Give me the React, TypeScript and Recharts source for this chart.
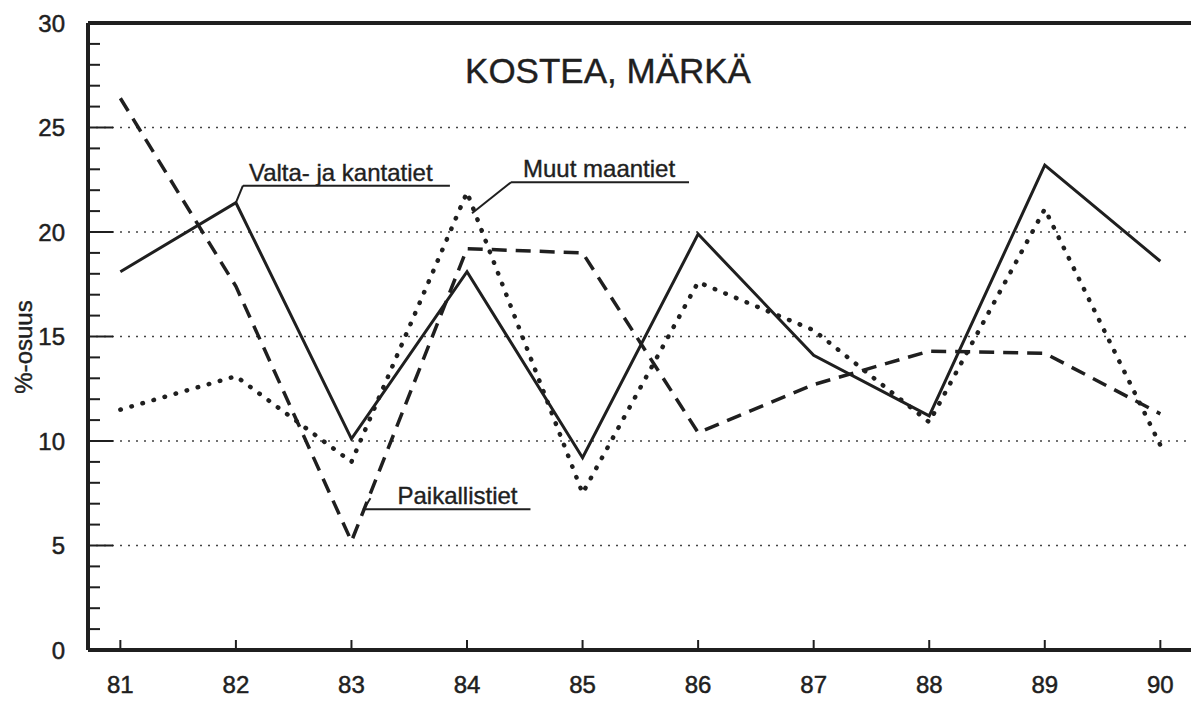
import { LineChart, Line, XAxis, YAxis, ReferenceLine, ReferenceDot } from 'recharts';

const years = [81, 82, 83, 84, 85, 86, 87, 88, 89, 90];
const valtaJaKantatiet = [18.1, 21.4, 10.1, 18.1, 9.2, 19.9, 14.1, 11.2, 23.2, 18.6];
const muutMaantiet = [11.5, 13.1, 9.0, 21.9, 7.5, 17.6, 15.3, 10.9, 21.1, 9.8];
const paikallistiet = [26.4, 17.4, 5.2, 19.2, 19.0, 10.4, 12.7, 14.3, 14.2, 11.3];
const yTicks = [0, 1, 2, 3, 4, 5, 6, 7, 8, 9, 10, 11, 12, 13, 14, 15, 16, 17, 18, 19, 20, 21, 22, 23, 24, 25, 26, 27, 28, 29, 30];
const gridValues = [5, 10, 15, 20, 25];

const ink = '#1f1f1f';
const font = '"Liberation Sans", Arial, Helvetica, sans-serif';

const data = years.map((year, i) => ({
  year,
  valta: valtaJaKantatiet[i],
  muut: muutMaantiet[i],
  paikal: paikallistiet[i],
}));

const YTick = (props: any) => {
  const { x, y, payload } = props;
  const major = payload.value % 5 === 0;
  return (
    <g>
      <line x1={x} x2={x + (major ? 25 : 12)} y1={y} y2={y} stroke={ink} strokeWidth={2} />
      {major && (
        <text x={x - 23} y={y} textAnchor="end" dominantBaseline="central" fontSize={24} fontFamily={font} fill={ink} stroke={ink} strokeWidth={0.5}>
          {payload.value}
        </text>
      )}
    </g>
  );
};

const XTick = (props: any) => {
  const { x, y, payload } = props;
  return (
    <g>
      <line x1={x} x2={x} y1={y} y2={y - 10} stroke={ink} strokeWidth={2} />
      <text x={x} y={y + 43} textAnchor="middle" fontSize={24} fontFamily={font} fill={ink} stroke={ink} strokeWidth={0.5}>
        {payload.value}
      </text>
    </g>
  );
};

// callout: leader from the data point, underline, label text
const callout = (label: string, path: string, ux1: number, ux2: number, uy: number, tx: number, ty: number) =>
  (props: any) => {
    const { cx, cy } = props;
    return (
      <g transform={`translate(${cx},${cy})`}>
        <path d={path} fill="none" stroke={ink} strokeWidth={2} />
        <line x1={ux1} x2={ux2} y1={uy} y2={uy} stroke={ink} strokeWidth={2} />
        <text x={tx} y={ty} fontSize={24} fontFamily={font} fill={ink} stroke={ink} strokeWidth={0.4}>{label}</text>
      </g>
    );
  };

export default function App() {
  return (
    <div style={{ position: 'absolute', left: 0, top: 0, width: 1191, height: 701, overflow: 'hidden', background: '#fff' }}>
      <LineChart width={1200} height={701} data={data} margin={{ top: 23, right: 5, left: 28, bottom: 11 }}>
        {gridValues.map((v) => (
          <ReferenceLine key={v} y={v} stroke="#444" strokeWidth={1.6} strokeDasharray="2 6" />
        ))}
        <ReferenceLine y={30} stroke={ink} strokeWidth={4} />
        <XAxis
          dataKey="year"
          type="number"
          domain={[80.72, 90.3]}
          ticks={years}
          interval={0}
          allowDataOverflow
          height={40}
          tickSize={0}
          tickMargin={0}
          tickLine={false}
          axisLine={{ stroke: ink, strokeWidth: 4 }}
          tick={<XTick />}
        />
        <YAxis
          domain={[0, 30]}
          ticks={yTicks}
          interval={0}
          allowDataOverflow
          width={60}
          tickSize={0}
          tickMargin={0}
          tickLine={false}
          axisLine={{ stroke: ink, strokeWidth: 4 }}
          tick={<YTick />}
        />
        <Line type="linear" dataKey="muut" stroke={ink} strokeWidth={4.5} strokeDasharray="0.5 11" strokeLinecap="round" dot={false} isAnimationActive={false} />
        <Line type="linear" dataKey="paikal" stroke={ink} strokeWidth={3.5} strokeDasharray="15 9" dot={false} isAnimationActive={false} />
        <Line type="linear" dataKey="valta" stroke={ink} strokeWidth={3} dot={false} isAnimationActive={false} />
        <ReferenceDot
          x={years[1]}
          y={valtaJaKantatiet[1]}
          shape={callout('Valta- ja kantatiet', 'M0,0 L7,-17', 7, 214, -17, 13, -22)}
        />
        <ReferenceDot
          x={years[3]}
          y={muutMaantiet[3]}
          shape={callout('Muut maantiet', 'M5,21 L44,-10', 44, 222, -10, 56, -15)}
        />
        <ReferenceDot
          x={years[2]}
          y={paikallistiet[2]}
          shape={callout('Paikallistiet', 'M19,-43 L12,-32', 12, 179, -32, 46, -37)}
        />
      </LineChart>
      <div style={{ position: 'absolute', left: 608, top: 51, transform: 'translateX(-50%)', fontFamily: font, fontSize: 35, color: ink, whiteSpace: 'nowrap', WebkitTextStroke: '0.4px #1f1f1f' }}>
        KOSTEA, MÄRKÄ
      </div>
      <div style={{ position: 'absolute', left: 24, top: 347, transform: 'translate(-50%, -50%) rotate(-90deg)', fontFamily: font, fontSize: 24, color: ink, whiteSpace: 'nowrap', WebkitTextStroke: '0.4px #1f1f1f' }}>
        %-osuus
      </div>
    </div>
  );
}
